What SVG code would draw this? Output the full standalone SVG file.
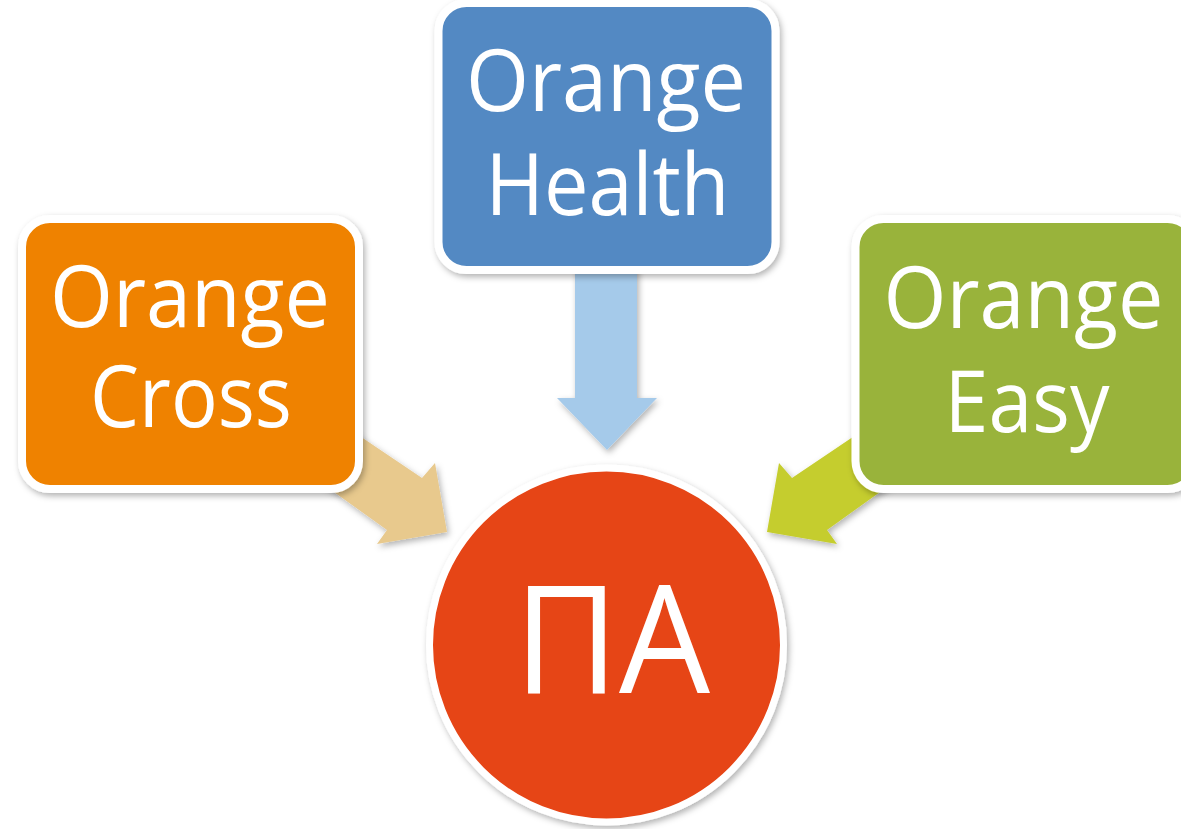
<svg xmlns="http://www.w3.org/2000/svg" width="1181" height="829" viewBox="0 0 1181 829">
<style>
.box{stroke:#ffffff;stroke-width:8;filter:url(#sh)}
.lbl{font-family:"Open Sans","Noto Sans","Liberation Sans",sans-serif;fill:#ffffff;font-size:86px;text-anchor:middle}
.arr{filter:url(#sh)}
</style>
<defs>
<filter id="sh" x="-10%" y="-10%" width="130%" height="130%">
<feDropShadow dx="2" dy="3" stdDeviation="3" flood-color="#000000" flood-opacity="0.3"/>
</filter>
</defs>
<rect width="1181" height="829" fill="#ffffff"/>
<g id="connectors">
<polygon class="arr" fill="#A5CAEA" points="575,262 637,262 637,398 657,398 607,450 557,398 575,398"/>
<polygon class="arr" fill="#E8C98D" points="330,416 422,478 435,463 447,532 377,544 387,530 320,482"/>
<polygon class="arr" fill="#C5CD2E" points="884,416 792,478 779,463 767,532 837,544 827,530 894,482"/>
</g>
<g id="node-cross">
<rect class="box" x="22" y="219" width="337" height="270" rx="28" fill="#EF8200"/>
<text class="lbl" x="190" y="327" textLength="280" lengthAdjust="spacingAndGlyphs">Orange</text>
<text class="lbl" x="191" y="427" textLength="202" lengthAdjust="spacingAndGlyphs">Cross</text>
</g>
<g id="node-health">
<rect class="box" x="438.5" y="3" width="337" height="267" rx="28" fill="#5389C3"/>
<text class="lbl" x="606" y="111" textLength="280" lengthAdjust="spacingAndGlyphs">Orange</text>
<text class="lbl" x="607.5" y="215" textLength="244" lengthAdjust="spacingAndGlyphs">Health</text>
</g>
<g id="node-easy">
<rect class="box" x="855.5" y="219" width="340" height="270" rx="28" fill="#99B33B"/>
<text class="lbl" x="1023.5" y="328" textLength="280" lengthAdjust="spacingAndGlyphs">Orange</text>
<text class="lbl" x="1027" y="432" textLength="165" lengthAdjust="spacingAndGlyphs">Easy</text>
</g>
<g id="node-pa">
<circle cx="606.5" cy="645" r="177" fill="#E64415" stroke="#ffffff" stroke-width="7" filter="url(#sh)"/>
<text class="lbl" x="612" y="693" style="font-size:151px" textLength="196" lengthAdjust="spacingAndGlyphs">ПА</text>
</g>
</svg>
